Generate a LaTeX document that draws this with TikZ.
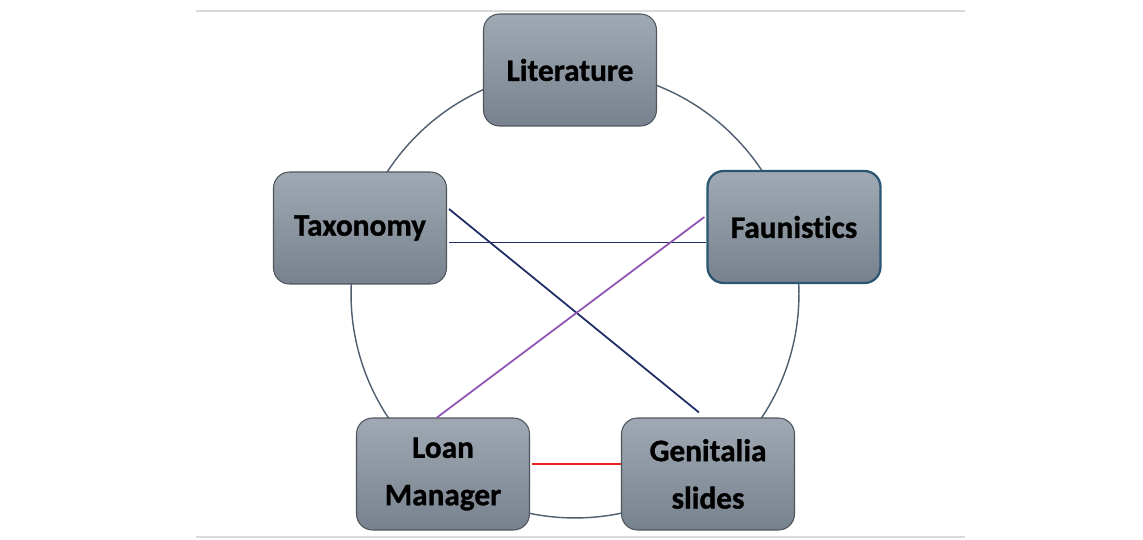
\documentclass[tikz,border=0pt]{standalone}
\usepackage{fontspec}
\setmainfont{Carlito}[Ligatures={NoCommon,NoRare}, BoldFeatures={FakeBold=1}]
\usetikzlibrary{calc}
\definecolor{boxtop}{HTML}{A0A9B3}
\definecolor{boxbot}{HTML}{77828E}
\definecolor{boxline}{HTML}{4E555D}
\definecolor{faunline}{HTML}{2B5672}
\definecolor{ringcol}{HTML}{4F5E6E}
\definecolor{navy}{HTML}{1F2C66}
\definecolor{purp}{HTML}{8E55B5}
\definecolor{redl}{HTML}{E8231F}
\definecolor{rule}{HTML}{DADADA}
\tikzset{
  topic/.style={rectangle, rounded corners=0.32cm, draw=boxline, line width=0.6pt,
    top color=boxtop, bottom color=boxbot, minimum width=3.46cm, minimum height=2.24cm,
    inner sep=0pt, align=center, font=\fontsize{17.8}{27}\selectfont\bfseries, text=black},
  ring/.style={draw=ringcol, line width=0.8pt},
  link/.style={line width=1pt},
  rulel/.style={draw=rule, line width=1.2pt}
}
\begin{document}
\begin{tikzpicture}[x=0.02cm, y=-0.02cm]
\path[use as bounding box, fill=white] (0,0) rectangle (1143,540);
\coordinate (rl) at (196,11);
\coordinate (rr) at (965,11);
\coordinate (bl) at (196,537);
\coordinate (br) at (965,537);
\draw[rulel] (rl) -- (rr);
\draw[rulel] (bl) -- (br);
\coordinate (ctr) at (575,294);
\draw[ring] (ctr) circle[radius=4.48cm];
\node[topic] (lit) at (570,70) {Literature};
\node[topic] (tax) at (360,228) {Taxonomy};
\node[topic, draw=faunline, line width=1.3pt] (fau) at (794,227) {Faunistics};
\node[topic] (loan) at (443,474) {Loan\\Manager};
\node[topic] (gen) at (708,474) {Genitalia\\slides};
\draw[link, navy] ($(tax.east)+(2,14.5)$) -- ($(fau.west)+(0,15.5)$);
\draw[link, navy] ($(tax.east)+(2,-19)$) -- ($(gen.north)+(-9,-5)$);
\draw[link, purp] ($(fau.west)+(-2,-10)$) -- ($(loan.north)+(-6,0)$);
\draw[link, redl] ($(loan.east)+(2,-10)$) -- ($(gen.west)+(0,-10)$);
\end{tikzpicture}
\end{document}
